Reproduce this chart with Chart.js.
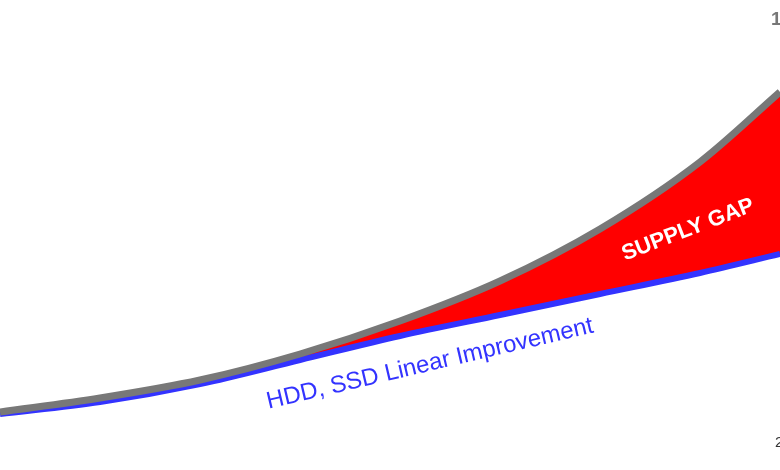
<!DOCTYPE html>
<html>
<head>
<meta charset="utf-8">
<script src="https://cdn.jsdelivr.net/npm/chart.js@4"></script>
<style>
    html, body { margin: 0; padding: 0; background: #fff; }
    #wrap { width: 780px; height: 470px; }
</style>
</head>
<body>
<div id="wrap"><canvas id="gapChart"></canvas></div>
<script>
// Horizontal positions (arbitrary units, same as chart width)
const positions = [0, 100, 200, 300, 400, 500, 600, 700, 780];
// Demand curve (grey, exponential)
const demand = [58, 72, 90, 116, 149, 189, 241, 308, 378];
// HDD / SSD supply curve (blue, near linear)
const supply = [56, 68, 86, 110, 134, 155, 176, 197, 216];

// Text labels placed in data units
const annotations = [
    { text: 'SUPPLY GAP', x: 688, y: 240, angle: -21, font: 'bold 22px "Liberation Sans", Arial, sans-serif', color: '#ffffff', align: 'center' },
    { text: 'HDD, SSD Linear Improvement', x: 430, y: 106, angle: -13.2, font: '24px "Liberation Sans", Arial, sans-serif', color: '#3333ff', align: 'center' },
    { text: '1', x: 771, y: 450, angle: 0, font: 'bold 19px "Liberation Sans", Arial, sans-serif', color: '#777777', align: 'left' },
    { text: '2', x: 775, y: 27, angle: 0, font: '15px "Liberation Sans", Arial, sans-serif', color: '#333333', align: 'left' }
];

const toPoints = (ys) => ys.map((y, i) => ({ x: positions[i], y: y }));

// Draws the rotated text labels on top of the datasets
const labelPlugin = {
    id: 'labelPlugin',
    afterDatasetsDraw(chart) {
        const ctx = chart.ctx;
        const xs = chart.scales.x;
        const ys = chart.scales.y;
        annotations.forEach(a => {
            ctx.save();
            ctx.translate(xs.getPixelForValue(a.x), ys.getPixelForValue(a.y));
            ctx.rotate(a.angle * Math.PI / 180);
            ctx.font = a.font;
            ctx.fillStyle = a.color;
            ctx.textAlign = a.align;
            ctx.textBaseline = 'middle';
            ctx.fillText(a.text, 0, 0);
            ctx.restore();
        });
    }
};

const ctx = document.getElementById('gapChart').getContext('2d');
new Chart(ctx, {
    type: 'line',
    data: {
        datasets: [
            {
                label: 'Demand',
                data: toPoints(demand),
                borderColor: 'rgb(120, 120, 120)',
                borderWidth: 7,
                pointRadius: 0,
                cubicInterpolationMode: 'monotone',
                fill: { target: 1, above: 'rgb(255, 0, 0)', below: 'rgb(255, 0, 0)' },
                order: 0
            },
            {
                label: 'HDD, SSD',
                data: toPoints(supply),
                borderColor: 'rgb(51, 51, 255)',
                borderWidth: 6,
                pointRadius: 0,
                cubicInterpolationMode: 'monotone',
                fill: false,
                order: 1
            }
        ]
    },
    options: {
        responsive: true,
        maintainAspectRatio: false,
        animation: false,
        layout: { padding: 0 },
        plugins: {
            legend: { display: false },
            tooltip: { enabled: false },
            filler: { drawTime: 'beforeDatasetsDraw' }
        },
        scales: {
            x: { type: 'linear', min: 0, max: 780, display: false },
            y: { type: 'linear', min: 0, max: 470, display: false }
        }
    },
    plugins: [labelPlugin]
});
</script>
</body>
</html>
